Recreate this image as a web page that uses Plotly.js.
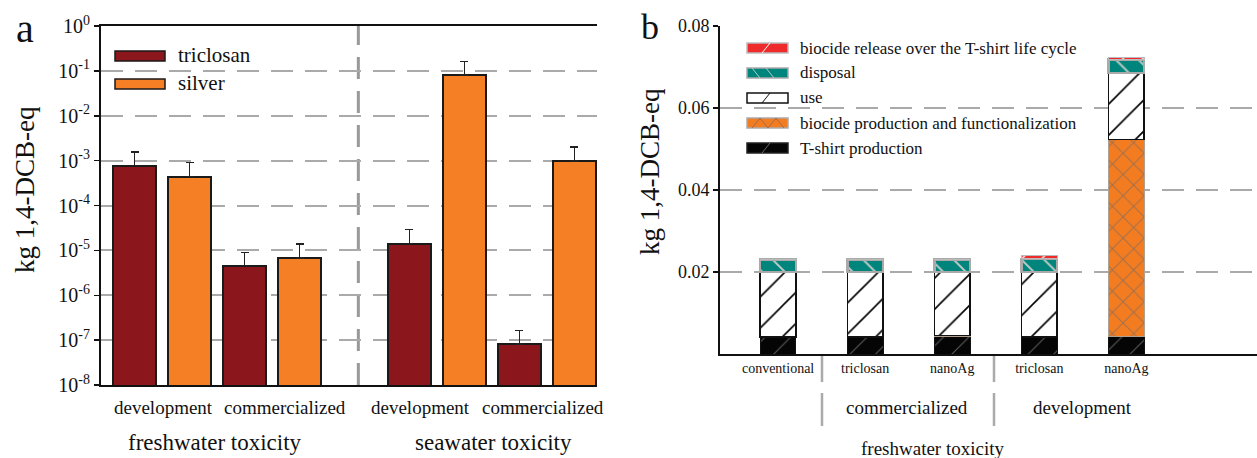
<!DOCTYPE html>
<html>
<head>
<meta charset="utf-8">
<script src="https://cdn.plot.ly/plotly-3.0.1.min.js"></script>
<style>html,body{margin:0;padding:0;background:#fff;}#chart{width:1257px;height:458px;}</style>
</head>
<body>
<div id="chart"></div>
<script>
// ---------- Panel a data ----------
const envGroups = ['freshwater toxicity', 'seawater toxicity'];
const stages = ['development', 'commercialized'];
// order: fw-dev, fw-com, sw-dev, sw-com
const triclosanVals  = [7.7e-4, 4.6e-6, 1.42e-5, 8.3e-8];
const triclosanUpper = [1.56e-3, 8.9e-6, 2.9e-5, 1.66e-7];
const silverVals     = [4.4e-4, 6.8e-6, 0.08, 9.7e-4];
const silverUpper    = [9.1e-4, 1.38e-5, 0.16, 2.0e-3];
const seriesA = ['triclosan', 'silver'];
const logTicks = [0, -1, -2, -3, -4, -5, -6, -7, -8];

// ---------- Panel b data ----------
const bCategories = ['conventional', 'triclosan', 'nanoAg', 'triclosan', 'nanoAg'];
const bGroups = ['commercialized', 'development'];
const tshirtProd  = [0.0042, 0.0042, 0.0042, 0.0042, 0.0042];
const biocideProd = [0, 0, 0.0003, 0, 0.04815];
const useStage    = [0.0158, 0.0158, 0.0155, 0.0158, 0.0162];
const disposal    = [0.0031, 0.0031, 0.0031, 0.0032, 0.0033];
const release     = [0, 0, 0, 0.0008, 0.0005];
const bTicks = [0.02, 0.04, 0.06, 0.08];

const W = 1257, H = 458;
const px = v => v / W;
const py = v => 1 - v / H;
const SERIF = 'Liberation Serif, Times New Roman, serif';

// positions computed from structure: env*5 + stage*2 + series
const posA = (s) => [0, 1, 2, 3].map(i => Math.floor(i / 2) * 5 + (i % 2) * 2 + s);

const colA = ['#8b161b', '#f47f24'];
const valsA = [triclosanVals, silverVals];
const upA = [triclosanUpper, silverUpper];

const traces = [];
seriesA.forEach((name, s) => {
  traces.push({
    type: 'bar', name: name, x: posA(s), y: valsA[s], width: 0.78,
    xaxis: 'x', yaxis: 'y',
    marker: {color: colA[s], line: {color: '#1a1a1a', width: 2}},
    error_y: {type: 'data', symmetric: false,
      array: valsA[s].map((v, i) => upA[s][i] - v),
      arrayminus: valsA[s].map(() => 0),
      color: '#222', thickness: 1.5, width: 4},
    showlegend: false, hoverinfo: 'skip'
  });
});

const bx = bCategories.map((c, i) => i);
const stackDefs = [
  {name: 'T-shirt production', y: tshirtProd, color: '#050505',
   line: {color: '#111', width: 1},
   pattern: {shape: '/', fgcolor: '#5a5a5a', size: 18, solidity: 0.06}},
  {name: 'biocide production and functionalization', y: biocideProd, color: '#f47c20',
   line: {color: '#b0a090', width: 1},
   pattern: {shape: 'x', fgcolor: '#a0704e', size: 15, solidity: 0.13}},
  {name: 'use', y: useStage, color: '#ffffff',
   line: {color: '#111', width: 1.5},
   pattern: {shape: '/', fgcolor: '#000', size: 22, solidity: 0.075}},
  {name: 'disposal', y: disposal, color: '#00857c',
   line: {color: '#aaaaaa', width: 2.5},
   pattern: {shape: '\\', fgcolor: '#b8c8c4', size: 16, solidity: 0.12}},
  {name: 'biocide release over the T-shirt life cycle', y: release, color: '#ee2a2a',
   line: {color: '#bbbbbb', width: 1},
   pattern: {shape: '/', fgcolor: '#ffffff', size: 14, solidity: 0.1}}
];
stackDefs.forEach(d => {
  traces.push({
    type: 'bar', name: d.name, x: bx, y: d.y, width: 0.41,
    xaxis: 'x2', yaxis: 'y2',
    marker: {color: d.color, line: d.line,
      pattern: Object.assign({fillmode: 'replace', bgcolor: d.color}, d.pattern)},
    showlegend: false, hoverinfo: 'skip'
  });
});

const annotations = [];
const shapes = [];
function txt(text, x, y, size, extra) {
  annotations.push(Object.assign({text: text, x: px(x), y: py(y), xref: 'paper', yref: 'paper',
    showarrow: false, font: {family: SERIF, size: size, color: '#111'},
    xanchor: 'center', yanchor: 'middle'}, extra || {}));
}

// panel labels
txt('a', 25, 28, 40);
txt('b', 650, 27, 36);
// axis titles
txt('kg 1,4-DCB-eq', 25, 190, 27, {textangle: -90});
txt('kg 1,4-DCB-eq', 650, 172, 27, {textangle: -90});

// panel a category labels
const catPx = [163.5, 285, 420.5, 542.5];
[0, 1, 2, 3].forEach(i => txt(stages[i % 2], catPx[i], 407, 19));
txt(envGroups[0], 214.5, 442, 23);
txt(envGroups[1], 493.5, 442, 23);

// panel a legend
seriesA.forEach((n, s) => {
  const yc = 56 + s * 28;
  shapes.push({type: 'rect', xref: 'paper', yref: 'paper', x0: px(115), x1: px(165),
    y0: py(yc - 5), y1: py(yc + 5), fillcolor: colA[s], line: {color: '#1a1a1a', width: 1.5}});
  txt(n, 176, yc - 1, 21, {xanchor: 'left'});
});

// panel a dashed separator
shapes.push({type: 'line', xref: 'x', yref: 'paper', x0: 4.07, x1: 4.07, y0: py(385), y1: py(26),
  line: {color: '#999999', width: 3, dash: '22px,12px'}, layer: 'below'});

// panel b group labels + separators
txt(bGroups[0], 907, 407, 19);
txt(bGroups[1], 1082, 407, 19);
txt('freshwater toxicity', 932, 448, 19);
[822, 994].forEach(xp => {
  shapes.push({type: 'line', xref: 'paper', yref: 'paper', x0: px(xp), x1: px(xp), y0: py(356), y1: py(382),
    line: {color: '#aaaaaa', width: 2.5}});
  shapes.push({type: 'line', xref: 'paper', yref: 'paper', x0: px(xp), x1: px(xp), y0: py(393), y1: py(426),
    line: {color: '#aaaaaa', width: 2.5}});
});

// panel b legend
const legB = [
  {n: stackDefs[4].name, fill: '#ee2a2a', line: '#bbbbbb', stripe: '#ffffff'},
  {n: stackDefs[3].name, fill: '#00857c', line: '#aaaaaa', stripe: '#b8c8c4'},
  {n: stackDefs[2].name, fill: '#ffffff', line: '#111111', stripe: '#111111'},
  {n: stackDefs[1].name, fill: '#f47c20', line: '#aaaaaa', stripe: '#a06c48'},
  {n: stackDefs[0].name, fill: '#050505', line: '#222222', stripe: '#6a6a6a'}
];
legB.forEach((d, i) => {
  const yc = 48 + i * 25;
  shapes.push({type: 'rect', xref: 'paper', yref: 'paper', x0: px(747), x1: px(788),
    y0: py(yc - 5), y1: py(yc + 5), fillcolor: d.fill, line: {color: d.line, width: 1.5}});
  let path;
  if (i === 1) {
    path = `M ${px(752)} ${py(yc - 5)} L ${px(760)} ${py(yc + 5)} M ${px(766)} ${py(yc - 5)} L ${px(774)} ${py(yc + 5)}`;
  } else if (i === 3) {
    path = `M ${px(752)} ${py(yc + 5)} L ${px(760)} ${py(yc - 5)} L ${px(768)} ${py(yc + 5)} L ${px(776)} ${py(yc - 5)} L ${px(784)} ${py(yc + 5)}`;
  } else {
    path = `M ${px(762)} ${py(yc + 5)} L ${px(770)} ${py(yc - 5)}`;
  }
  shapes.push({type: 'path', xref: 'paper', yref: 'paper', path: path,
    line: {color: d.stripe, width: 1}});
  txt(d.n, 798, yc, 17, {xanchor: 'left'});
});

const layout = {
  width: W, height: H,
  margin: {l: 0, r: 0, t: 0, b: 0},
  paper_bgcolor: '#ffffff', plot_bgcolor: 'rgba(0,0,0,0)',
  barmode: 'stack',
  showlegend: false,
  font: {family: SERIF, color: '#111'},
  xaxis: {domain: [px(101), px(597)], range: [-0.61, 8.41], showticklabels: false,
    showgrid: false, zeroline: false, showline: true, mirror: true, linecolor: '#111', linewidth: 2,
    ticks: '', fixedrange: true},
  yaxis: {domain: [py(385), py(26)], type: 'log', range: [-8, 0],
    tickvals: logTicks.map(e => Math.pow(10, e)),
    ticktext: logTicks.map(e => '10<sup>' + e + '</sup>'),
    tickfont: {family: SERIF, size: 20, color: '#111'},
    ticks: 'outside', ticklen: 5, tickwidth: 1.5, tickcolor: '#111',
    showline: true, linecolor: '#111', linewidth: 2,
    showgrid: true, gridcolor: '#aaaaaa', gridwidth: 2, griddash: '22px,12px',
    zeroline: false, fixedrange: true},
  xaxis2: {domain: [px(720), 1], range: [-0.667, 5.5], anchor: 'y2',
    tickvals: bx, ticktext: bCategories, tickfont: {family: SERIF, size: 14, color: '#111'},
    ticks: '', showgrid: false, zeroline: false, showline: true, linecolor: '#111', linewidth: 2,
    fixedrange: true},
  yaxis2: {domain: [py(354), py(26)], range: [0, 0.08], anchor: 'x2',
    tickvals: bTicks, ticktext: bTicks.map(v => v.toFixed(2)),
    tickfont: {family: SERIF, size: 18, color: '#111'},
    ticks: 'outside', ticklen: 5, tickwidth: 1.5, tickcolor: '#111',
    showline: true, linecolor: '#111', linewidth: 2,
    showgrid: true, gridcolor: '#aaaaaa', gridwidth: 2, griddash: '22px,12px',
    zeroline: false, fixedrange: true},
  annotations: annotations,
  shapes: shapes
};

Plotly.newPlot('chart', traces, layout, {staticPlot: true, displayModeBar: false});
</script>
</body>
</html>
